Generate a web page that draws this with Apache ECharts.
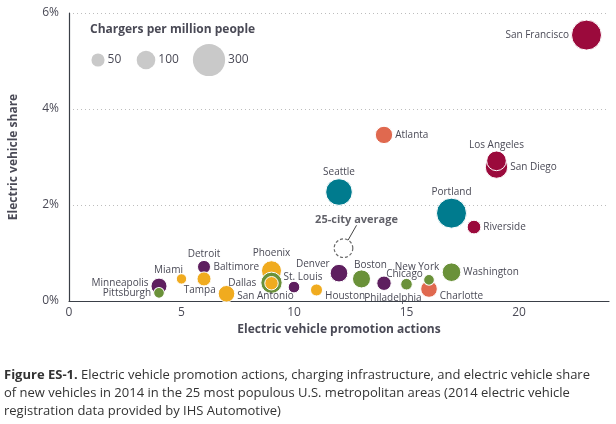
<!DOCTYPE html>
<html>
<head>
<meta charset="utf-8">
<script src="https://cdn.jsdelivr.net/npm/echarts@6/dist/echarts.min.js"></script>
<style>
  html, body { margin: 0; padding: 0; background: #fff; }
  #chart { width: 616px; height: 424px; }
</style>
</head>
<body>
<div id="chart"></div>
<script>
// one entry per metro area, drawing order matters (later = on top)
const cities   = ['San Francisco', 'Atlanta', 'San Diego', 'Los Angeles', 'Seattle', 'Portland', 'Riverside',
                  'Minneapolis', 'Pittsburgh', 'Miami', 'Detroit', 'Baltimore', 'Tampa', 'Phoenix', 'Dallas',
                  'San Antonio', 'St. Louis', 'Houston', 'Denver', 'Boston', 'Philadelphia', 'Chicago',
                  'Charlotte', 'New York', 'Washington']
const actions  = [23, 14, 19, 19, 12, 17, 18,
                  4, 4, 5, 6, 6, 7, 9, 9,
                  9, 10, 11, 12, 13, 14, 15,
                  16, 16, 17]
const evShare  = [5.54, 3.46, 2.79, 2.92, 2.27, 1.83, 1.54,
                  0.31, 0.17, 0.46, 0.71, 0.46, 0.15, 0.63, 0.38,
                  0.37, 0.29, 0.23, 0.58, 0.46, 0.37, 0.35,
                  0.25, 0.44, 0.60]
const chargers = [260, 87, 145, 112, 205, 260, 54,
                  74, 33, 31, 49, 57, 80, 116, 131,
                  52, 39, 42, 90, 94, 60, 39,
                  80, 33, 100]
const groups   = ['crimson', 'coral', 'crimson', 'crimson', 'teal', 'teal', 'crimson',
                  'purple', 'green', 'orange', 'purple', 'orange', 'orange', 'orange', 'green',
                  'orange', 'purple', 'orange', 'purple', 'green', 'purple', 'green',
                  'coral', 'green', 'green']

const average = { actions: 12.2, share: 1.10, chargers: 100 }
const legendSizes = [50, 100, 300]
const xTicks = [0, 5, 10, 15, 20]
const yTicks = [0, 2, 4, 6]

const palette = {
    crimson: '#9b0a3c',
    coral: '#e0694f',
    teal: '#007b8e',
    purple: '#5e1f5f',
    green: '#6a9139',
    orange: '#f0ab1f'
}

// label placement per city
const labelPlace = {
    'San Francisco': { position: 'left' },
    'Atlanta': { position: 'right' },
    'San Diego': { position: 'right' },
    'Los Angeles': { position: 'top', offset: [0, 2] },
    'Seattle': { position: 'top', offset: [0, 1] },
    'Portland': { position: 'top', offset: [0, 1] },
    'Riverside': { position: 'right' },
    'Minneapolis': { position: 'left', offset: [0, -3] },
    'Pittsburgh': { position: 'left', offset: [0, 0] },
    'Miami': { position: 'top', offset: [-13, 4] },
    'Detroit': { position: 'top', offset: [0, 1] },
    'Baltimore': { position: 'right', offset: [0, -12] },
    'Tampa': { position: 'left', offset: [0, -4] },
    'Phoenix': { position: 'top' },
    'Dallas': { position: 'left', offset: [-2, 0] },
    'San Antonio': { position: 'bottom', offset: [-6, -1] },
    'St. Louis': { position: 'top', offset: [9, 3] },
    'Houston': { position: 'right', offset: [0, 6] },
    'Denver': { position: 'left', offset: [2, -9] },
    'Boston': { position: 'top', offset: [9, 3] },
    'Philadelphia': { position: 'bottom', offset: [9, 0] },
    'Chicago': { position: 'top', offset: [-2, 3] },
    'Charlotte': { position: 'right', offset: [0, 7] },
    'New York': { position: 'top', offset: [-12, 0] },
    'Washington': { position: 'right' }
}

const font = '"Open Sans", sans-serif'
const textColor = '#4a4a56'

function sizeOf(v) {
    return 1.86 * Math.sqrt(v)
}

const points = cities.map((name, i) => ({
    name: name,
    value: [actions[i], evShare[i], chargers[i]],
    itemStyle: { color: palette[groups[i]] },
    label: labelPlace[name]
}))

// size key, top left
const legendX = [98, 146, 209]
const legendGraphics = [{
    type: 'text', left: 90, top: 24,
    style: { text: 'Chargers per million people', font: 'bold 12px ' + font, fill: textColor }
}]
legendSizes.forEach((v, i) => {
    const r = sizeOf(v) / 2
    legendGraphics.push({
        type: 'circle', shape: { cx: legendX[i], cy: 60, r: r },
        style: { fill: '#c9c9c9' }
    })
    legendGraphics.push({
        type: 'text', x: legendX[i] + r + 3, y: 60,
        style: { text: String(v), font: '12px ' + font, fill: textColor, verticalAlign: 'middle' }
    })
})

const chart = echarts.init(document.getElementById('chart'))
const option = {
    animation: false,
    textStyle: { fontFamily: font },
    grid: { left: 65, right: 7, top: 13, bottom: 123 },
    xAxis: {
        type: 'value',
        min: xTicks[0],
        max: 24,
        interval: xTicks[1] - xTicks[0],
        name: 'Electric vehicle promotion actions',
        nameLocation: 'middle',
        nameGap: 20,
        nameTextStyle: { fontWeight: 'bold', fontSize: 12, color: textColor },
        axisLine: { lineStyle: { color: '#3a3f47', width: 1.2 } },
        axisTick: { show: false },
        splitLine: { show: false },
        axisLabel: { color: textColor, fontSize: 12, margin: 6, showMaxLabel: false }
    },
    yAxis: {
        type: 'value',
        min: yTicks[0],
        max: yTicks[yTicks.length - 1],
        interval: yTicks[1] - yTicks[0],
        name: 'Electric vehicle share',
        nameLocation: 'middle',
        nameGap: 49,
        nameTextStyle: { fontWeight: 'bold', fontSize: 12, color: textColor },
        axisLine: { show: true, lineStyle: { color: '#3a3f47', width: 1.2 } },
        axisTick: { show: false },
        splitLine: { lineStyle: { color: '#bdbdbd', type: [1, 3] } },
        axisLabel: { color: textColor, fontSize: 12, margin: 10, formatter: '{value}%' }
    },
    series: [
        {
            type: 'scatter',
            data: points,
            symbolSize: val => sizeOf(val[2]),
            itemStyle: { opacity: 1, borderColor: '#fff', borderWidth: 1 },
            label: {
                show: true,
                formatter: '{b}',
                fontSize: 10,
                color: textColor,
                distance: 2
            },
            emphasis: { disabled: true }
        },
        {
            type: 'scatter',
            data: [[average.actions, average.share, average.chargers]],
            symbolSize: val => sizeOf(val[2]),
            itemStyle: {
                color: 'rgba(255,255,255,0)',
                borderColor: '#444',
                borderWidth: 1.2,
                borderType: [3, 2]
            },
            label: {
                show: true,
                formatter: '25-city average',
                position: 'top',
                fontSize: 11,
                fontWeight: 'bold',
                color: '#3a3a44',
                distance: 5
            },
            labelLayout: { dx: 13, dy: -8 },
            labelLine: { show: true, lineStyle: { color: '#444', width: 1 } },
            emphasis: { disabled: true }
        }
    ],
    graphic: legendGraphics.concat([{
        type: 'text', left: 4, top: 366,
        style: {
            text: '{b|Figure ES-1.} Electric vehicle promotion actions, charging infrastructure, and electric vehicle share\n' +
                  'of new vehicles in 2014 in the 25 most populous U.S. metropolitan areas (2014 electric vehicle\n' +
                  'registration data provided by IHS Automotive)',
            font: '13px ' + font,
            fill: '#333',
            lineHeight: 18,
            rich: {
                b: { font: 'bold 13px ' + font, fill: '#333', lineHeight: 18 }
            }
        }
    }])
}
chart.setOption(option)
</script>
</body>
</html>
